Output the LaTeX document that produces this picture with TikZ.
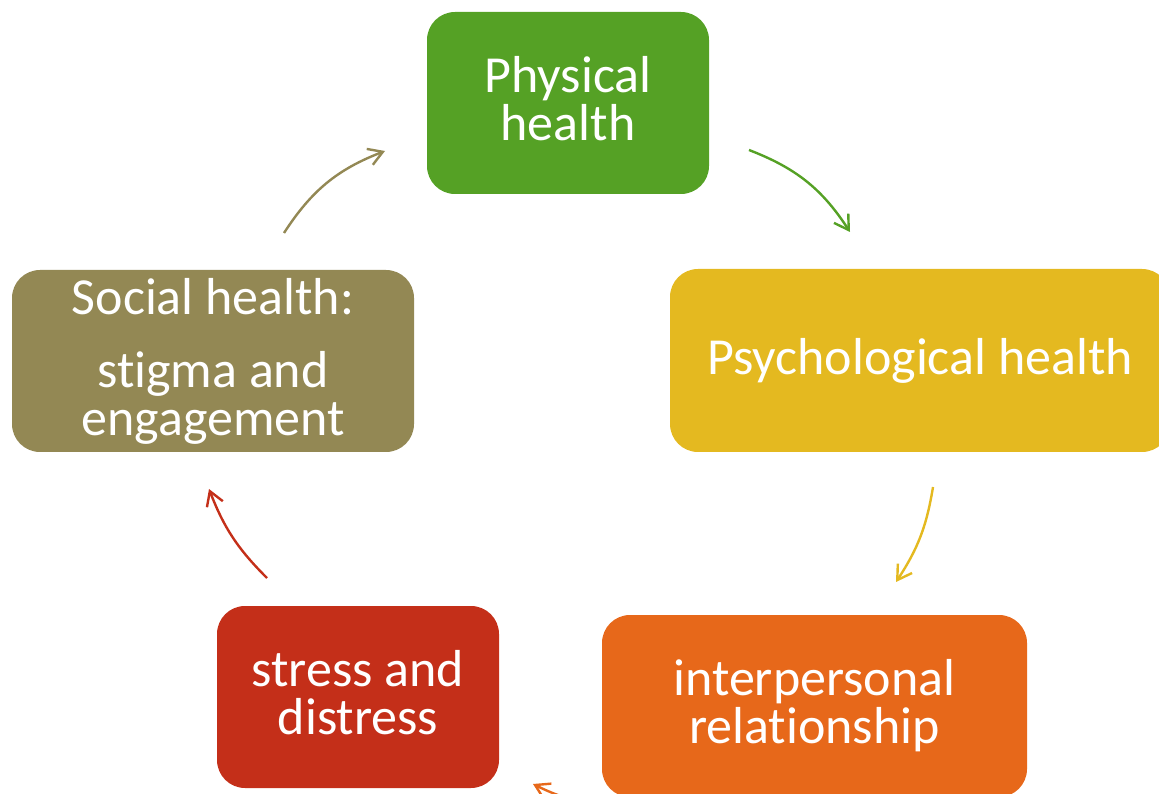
\documentclass[tikz,border=0pt]{standalone}
\usepackage{fontspec}
\setmainfont{Carlito}[Ligatures={NoCommon}, RawFeature={-liga}]
\usetikzlibrary{arrows.meta}
\definecolor{cgreen}{HTML}{55A125}
\definecolor{cyellow}{HTML}{E4B920}
\definecolor{corange}{HTML}{E7681A}
\definecolor{cred}{HTML}{C42F19}
\definecolor{colive}{HTML}{938854}
% invisible descender so lines without one sit like lines with one
\newcommand{\descstrut}{\rule[-10pt]{0pt}{10pt}}
\begin{document}
\begin{tikzpicture}[x=1pt,y=1pt,
  box/.style={rectangle, rounded corners=28pt, text=white, align=center,
    font=\fontsize{52}{48}\selectfont, inner sep=0pt},
  cyc/.style={line width=2.4pt, -{Straight Barb[length=14pt,width=17pt]}, bend left=#1}]
\useasboundingbox (0,0) rectangle (1159,793);
\clip (0,0) rectangle (1159,793);

% the five stages of the cycle
\node[box, fill=cgreen, minimum width=282pt, minimum height=182pt] (phys) at (568,690) {Physical\\health\descstrut};
\node[box, fill=cyellow, minimum width=500pt, minimum height=183pt] (psych) at (920,432.5) {Psychological health};
\node[box, fill=corange, minimum width=425pt, minimum height=182pt] (inter) at (814.5,87) {interpersonal\\relationship};
\node[box, fill=cred, minimum width=282pt, minimum height=182pt] (stress) at (358,96) {stress and\\distress\descstrut};
\node[box, fill=colive, minimum width=402pt, minimum height=182pt] (social) at (213,432) {Social health:\\[25pt]stigma and\\engagement};

% end points of the curved arrows between stages
\coordinate (a1s) at (749,643); \coordinate (a1e) at (850,561);
\coordinate (a2s) at (933,306); \coordinate (a2e) at (896,211);
\coordinate (a3s) at (615,-12); \coordinate (a3e) at (533,9);
\coordinate (a4s) at (267,215); \coordinate (a4e) at (209,304);
\coordinate (a5s) at (284,560); \coordinate (a5e) at (385,642);

\draw[cyc=18, cgreen] (a1s) to (a1e);
\draw[cyc=12, cyellow] (a2s) to (a2e);
\draw[cyc=12, corange] (a3s) to (a3e);
\draw[cyc=12, cred] (a4s) to (a4e);
\draw[cyc=18, colive] (a5s) to (a5e);
\end{tikzpicture}
\end{document}
